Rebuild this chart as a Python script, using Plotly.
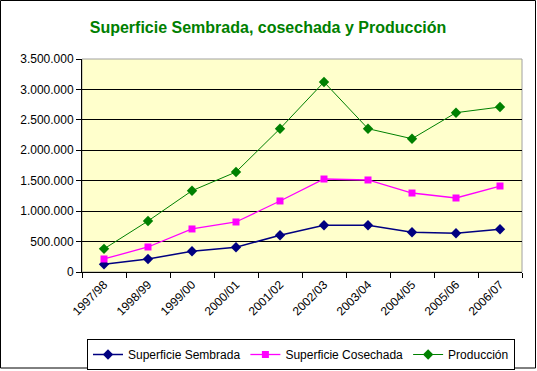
import plotly.graph_objects as go

campaigns = ["1997/98", "1998/99", "1999/00", "2000/01", "2001/02",
             "2002/03", "2003/04", "2004/05", "2005/06", "2006/07"]
sup_sembrada = [126000, 214000, 340000, 406000, 603000,
                767000, 767000, 652000, 636000, 702000]
sup_cosechada = [214000, 411000, 707000, 822000, 1167000,
                 1528000, 1512000, 1298000, 1216000, 1413000]
produccion = [380000, 838000, 1336000, 1643000, 2355000,
              3122000, 2355000, 2190000, 2618000, 2711000]
y_ticks = [0, 500000, 1000000, 1500000, 2000000, 2500000, 3000000, 3500000]

W, H = 537, 371
L, R, T, B = 82, 522, 59, 272


def px(x):
    return (x - L) / (R - L)


def py(y):
    return (B - y) / (B - T)


FONT = "Liberation Sans, Arial, sans-serif"

fig = go.Figure()
fig.add_trace(go.Scatter(
    x=campaigns, y=sup_sembrada, name="Superficie Sembrada", mode="lines+markers",
    line=dict(color="#000080", width=1.5),
    marker=dict(symbol="diamond", size=8, color="#000080")))
fig.add_trace(go.Scatter(
    x=campaigns, y=sup_cosechada, name="Superficie Cosechada", mode="lines+markers",
    line=dict(color="#FF00FF", width=1.3),
    marker=dict(symbol="square", size=7, color="#FF00FF")))
fig.add_trace(go.Scatter(
    x=campaigns, y=produccion, name="Producción", mode="lines+markers",
    line=dict(color="#008000", width=1),
    marker=dict(symbol="diamond", size=8, color="#008000")))

fig.update_layout(
    width=W, height=H,
    margin=dict(l=L, r=W - R, t=T, b=H - B, autoexpand=False),
    paper_bgcolor="white",
    plot_bgcolor="#FFFFCC",
    separators=",.",
    font=dict(family=FONT, size=12, color="black"),
    title=dict(text="<b>Superficie Sembrada, cosechada y Producción</b>",
               x=268 / W, xanchor="center", xref="container",
               y=1 - 27 / H, yanchor="middle", yref="container",
               font=dict(family=FONT, size=16, color="#008000")),
    showlegend=True,
    legend=dict(orientation="h", xref="container", yref="container",
                x=301 / W, xanchor="center", y=1 - 339 / H, yanchor="top",
                bordercolor="black", borderwidth=1, bgcolor="white",
                font=dict(family=FONT, size=12, color="black"),
                itemwidth=30, tracegroupgap=0),
    xaxis=dict(type="category", tickson="boundaries", ticks="outside", ticklen=5,
               tickcolor="black", tickwidth=1, tickangle=-45, automargin=False,
               showline=True, linecolor="black", linewidth=1, showgrid=False,
               tickfont=dict(family=FONT, size=12, color="black"),
               range=[-0.5, 9.5]),
    yaxis=dict(range=[0, 3500000], tickvals=y_ticks, tickformat=",d",
               ticks="outside", ticklen=5, tickcolor="black", automargin=False,
               showline=True, linecolor="black", linewidth=1,
               showgrid=True, gridcolor="black", gridwidth=1, zeroline=False,
               tickfont=dict(family=FONT, size=12, color="black")),
    shapes=[
        dict(type="rect", xref="paper", yref="paper", x0=0, x1=1, y0=0, y1=1,
             line=dict(color="#A0A0A0", width=1), layer="below"),
        dict(type="rect", xref="paper", yref="paper",
             x0=px(0.5), x1=px(535.5), y0=py(0.5), y1=py(368),
             line=dict(color="black", width=1), layer="above"),
    ],
)

fig.write_html("out.html", config={"displayModeBar": False},
               post_script="document.body.style.margin='0';document.body.style.overflow='hidden';")
